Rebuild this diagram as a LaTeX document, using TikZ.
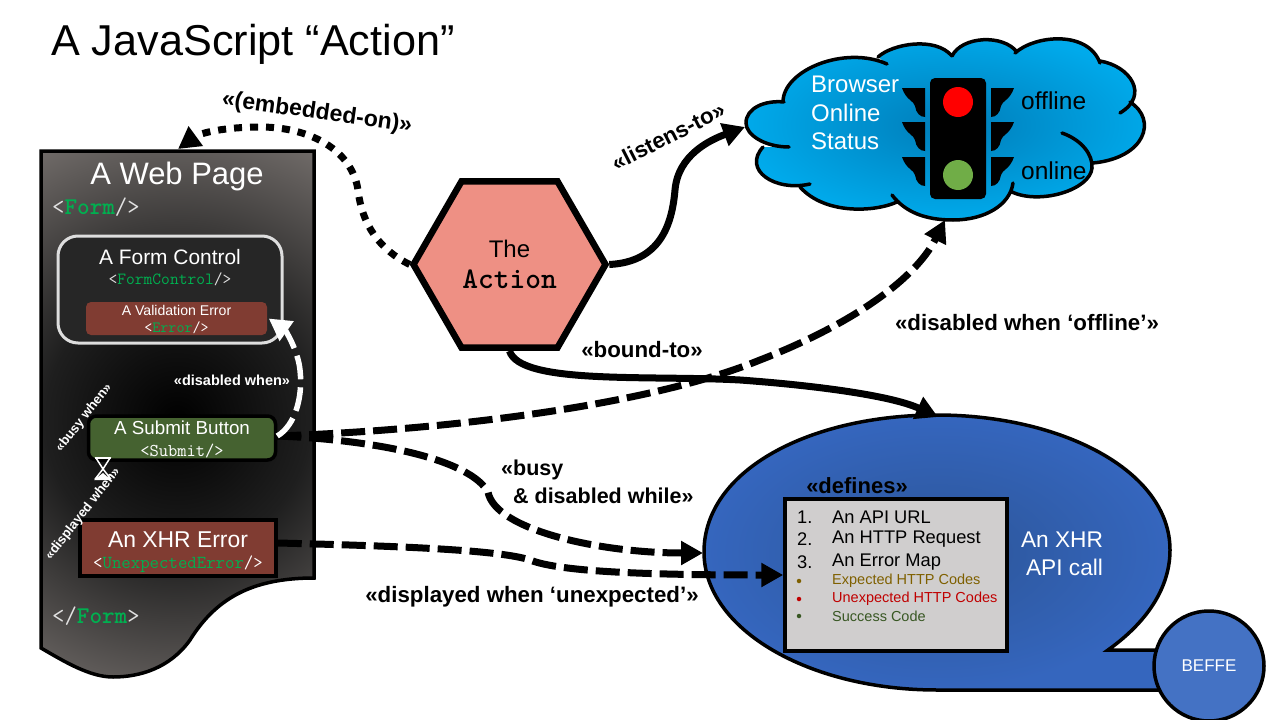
\documentclass[tikz,border=0pt]{standalone}
\usepackage{fontspec}
\setmainfont{Liberation Sans}
\usetikzlibrary{positioning, arrows.meta, shapes.geometric}
\newcommand{\fsz}[1]{\fontsize{#1}{#1}\selectfont}
\newcommand{\tagname}[1]{{\color{formgreen}#1}}
\definecolor{formgreen}{RGB}{0, 176, 80}
\definecolor{actionred}{RGB}{238, 144, 132}
\definecolor{errorred}{RGB}{128, 60, 50}
\definecolor{submitgreen}{RGB}{69, 98, 48}
\definecolor{cloudblue}{RGB}{0, 170, 235}
\definecolor{cloudmid}{RGB}{0, 125, 185}
\definecolor{xhrblue}{RGB}{53, 102, 190}
\definecolor{xhrmid}{RGB}{44, 85, 152}
\definecolor{listgrey}{RGB}{208, 206, 206}
\definecolor{beffeblue}{RGB}{68, 114, 196}
\definecolor{tagwhite}{RGB}{225, 225, 225}
\pgfdeclareradialshading{pageshade}{\pgfpoint{0bp}{0bp}}{%
  rgb(0bp)=(0,0,0); rgb(11bp)=(.12,.12,.12); rgb(25bp)=(.44,.42,.41); rgb(50bp)=(.44,.42,.41)}
\tikzset{
  % Boxes on the page
  block/.style={
    rectangle, draw=black, line width=3.5pt, text=white, align=center, inner sep=0pt
  },
  % Connector styles
  arr/.style={-{Triangle[length=22pt,width=23pt]}, line width=7pt, color=black},
  dasharr/.style={arr, dash pattern=on 24pt off 8pt},
  dotarr/.style={arr, dash pattern=on 8pt off 8pt},
  % Connector labels
  lab/.style={font=\fsz{22.3}\bfseries, text=black, inner sep=0pt, align=left},
  whitelab/.style={font=\fsz{13.2}\bfseries, text=white, inner sep=0pt},
  plain/.style={inner sep=0pt, text=white},
  tagtext/.style={inner sep=0pt, text=tagwhite, font=\fsz{24}\ttfamily, anchor=west},
  listitem/.style={inner sep=0pt, anchor=west, text=black, font=\fsz{18.3}},
  codeitem/.style={inner sep=0pt, anchor=west, font=\fsz{14.5}},
  bullet/.style={circle, minimum size=4.5pt, inner sep=0pt},
  lamp/.style={circle, minimum size=30pt, inner sep=0pt},
  visor/.style={fill=black},
}
% One hood of the traffic light
\newcommand{\visorpath}{(0,0) -- (23,0) -- (23,29) .. controls (18,29) and (14,25) .. (13,18) .. controls (12,13) and (4,12) .. (0,0) -- cycle}
% The cloud: #1 joins the bumps (-- to fill, empty to stroke)
\newcommand{\cloudoutline}[1]{
  (783,102) .. controls (783,70) and (845,45) .. (887,64) #1
  (878,57) .. controls (892,44) and (935,36) .. (952,56) #1
  (952,56) .. controls (962,36) and (1003,34) .. (1017,52) #1
  (1015,53) .. controls (1035,35) and (1088,30) .. (1100,63) #1
  (1100,61) .. controls (1130,66) and (1150,95) .. (1120,113) #1
  (1130,102) .. controls (1158,120) and (1145,158) .. (1093,163) #1
  (1062,133) .. controls (1082,140) and (1093,155) .. (1092,168) .. controls (1090,190) and (1040,205) .. (1012,192) #1
  (1013,183) .. controls (1010,205) and (985,220) .. (953,220) .. controls (925,220) and (905,212) .. (892,195) #1
  (897,202) .. controls (875,212) and (825,215) .. (800,187) #1
  (810,184) .. controls (775,192) and (742,170) .. (763,147) #1
  (789,147) .. controls (765,147) and (746,135) .. (746,123) .. controls (746,108) and (765,100) .. (784,102)
}
\newcommand{\pageoutline}{(41,151) -- (314,151) -- (314,578) .. controls (250,578) and (215,600) .. (190,640)
    .. controls (170,668) and (140,677) .. (113,677) .. controls (90,677) and (65,662) .. (41,648) -- cycle}
\newcommand{\bubbleoutline}{(1165,650) -- (1108,650) .. controls (1150,620) and (1170,585) .. (1170,550) .. controls (1170,470) and (1060,415) .. (937,415)
    .. controls (810,415) and (704,470) .. (704,552) .. controls (704,630) and (810,690) .. (937,690) -- (1165,690)}

\begin{document}
\begin{tikzpicture}[x=1pt, y=-1pt]
  \useasboundingbox (0,0) rectangle (1280,720);
  \node[plain, text=black, font=\fsz{43.2}, anchor=west] (title) at (51,44) {A JavaScript “Action”};

  % The web page
  \begin{scope}
    \clip \pageoutline;
    \shade[shading=pageshade] (177,420) circle (302);
  \end{scope}
  \draw[line width=3.5pt] \pageoutline;
  \coordinate (pagetop) at (178,149);
  \node[plain, font=\fsz{31}] (pagetitle) at (177,176) {A Web Page};
  \node[tagtext] (formopen) at (52,207) {<\tagname{\bfseries Form}/>};
  \node[tagtext] (formclose) at (52,616) {</\tagname{\bfseries Form}>};

  \node[block, draw=white!87!black, line width=3pt, fill=black!85, rounded corners=20pt, minimum width=224pt, minimum height=107pt] (formctl) at (170,289.5) {};
  \node[plain, font=\fsz{20.9}, below=15pt of formctl.north] (formctltxt) {A Form Control};
  \node[plain, text=tagwhite, font=\fsz{17}\ttfamily, below=7pt of formctltxt] (formctltag) {<\tagname{FormControl}/>};
  \node[block, draw=none, fill=errorred, rounded corners=5pt, minimum width=181pt, minimum height=33pt, font=\fsz{14.1}] (valerr) at (176.5,318.5) {\rule{0pt}{13pt}A Validation Error\\[3pt]{\fontsize{15.6}{15.6}\ttfamily <\tagname{Error}/>}};

  \node[block, fill=submitgreen, rounded corners=8pt, minimum width=187pt, minimum height=44pt, font=\fsz{18.8}] (submit) at (182,438) {\rule{0pt}{16pt}A Submit Button\\[3pt]{\fontsize{18}{18}\ttfamily <Submit/>}};
  \node[block, fill=errorred, minimum width=196pt, minimum height=56pt, font=\fsz{22.9}] (xhrerr) at (178,548) {\rule{0pt}{24pt}An XHR Error\\[-2pt]{\fontsize{18.3}{18.3}\ttfamily <\tagname{UnexpectedError}/>}};

  % Hourglass under the button
  \draw[white, line width=1.5pt] (96,458) -- (110,458) -- (103,469) -- cycle;
  \fill[white] (95,456.5) rectangle (111,459);
  \draw[white, line width=1.5pt] (103,469) -- (96,478) -- (110,478) -- cycle;
  \fill[white] (103,473) -- (94,480) -- (111,480) -- cycle;
  \node[whitelab, rotate=52] (busylab) at (84,418) {«busy when»};
  \node[whitelab, rotate=52] (displab) at (83,514) {«displayed when»};
  \node[whitelab, font=\fsz{14.5}\bfseries] (dislab) at (232,380) {«disabled when»};

  % The action
  \node[regular polygon, regular polygon sides=6, minimum size=192pt, inner sep=0pt, draw=black, line width=6.5pt, fill=actionred, align=center, font=\fsz{24}] (action) at (509.5,264.5) {The\\[7pt]{\fontsize{30}{30}\ttfamily\bfseries Action}};

  % The cloud with its traffic light
  \shade[inner color=cloudmid, outer color=cloudblue] \cloudoutline{--} -- cycle;
  \draw[line width=3.5pt, line cap=round] \cloudoutline{};
  \coordinate (cloudtip) at (945,220);
  \coordinate (cloudleft) at (745,127);
  \node[plain, font=\fontsize{24}{28.5}\selectfont, align=left, anchor=north west] (browser) at (811,76) {Browser\\Online\\Status};
  \node[plain, text=black, font=\fsz{24.5}, anchor=west] (offline) at (1021,101) {offline};
  \node[plain, text=black, font=\fsz{24.5}, anchor=west] (online) at (1021,171) {online};
  \node[draw=none, fill=black, rounded corners=5pt, minimum width=56pt, minimum height=121pt] (light) at (958,138.5) {};
  \node[lamp, fill=red] (redlamp) at (958,102) {};
  \node[lamp, fill={rgb,255:red,112;green,173;blue,71}] (greenlamp) at (958,175) {};
  \fill[visor, shift={(902,88)}] \visorpath;
  \fill[visor, shift={(902,122)}] \visorpath;
  \fill[visor, shift={(902,157)}] \visorpath;
  \fill[visor, shift={(1014,88)}, xscale=-1] \visorpath;
  \fill[visor, shift={(1014,122)}, xscale=-1] \visorpath;
  \fill[visor, shift={(1014,157)}, xscale=-1] \visorpath;

  % The XHR call bubble
  \shade[inner color=xhrmid, outer color=xhrblue] \bubbleoutline -- cycle;
  \draw[line width=3.5pt] \bubbleoutline;
  \coordinate (xhrtop) at (938,417);
  \coordinate (xhrleft) at (703,553);
  \node[block, fill=listgrey, minimum width=222pt, minimum height=152pt] (listbox) at (896,575) {};
  \node[plain, text=black, font=\fsz{22}\bfseries] (defines) at (857,486) {«defines»};
  \node[listitem] (num1) at (797,517) {1.};
  \node[listitem] (num2) at (797,539) {2.};
  \node[listitem] (num3) at (797,562) {3.};
  \node[listitem] (item1) at (832,517) {An API URL};
  \node[listitem] (item2) at (832,539) {An HTTP Request};
  \node[listitem] (item3) at (832,562) {An Error Map};
  \node[codeitem, text={rgb,255:red,127;green,96;blue,0}] (code1) at (832,581) {Expected HTTP Codes};
  \node[codeitem, text={rgb,255:red,192;green,0;blue,0}] (code2) at (832,599) {Unexpected HTTP Codes};
  \node[codeitem, text={rgb,255:red,56;green,87;blue,35}] (code3) at (832,616) {Success Code};
  \node[bullet, fill={rgb,255:red,127;green,96;blue,0}] (dot1) at (799,581) {};
  \node[bullet, fill={rgb,255:red,192;green,0;blue,0}] (dot2) at (799,599) {};
  \node[bullet, fill={rgb,255:red,56;green,87;blue,35}] (dot3) at (799,616) {};
  \node[plain, font=\fontsize{22.7}{28.5}\selectfont, align=right] (xhrtxt) at (1062,554) {An XHR\\API call};
  \node[circle, draw=black, line width=3.5pt, fill=beffeblue, minimum size=110pt, inner sep=0pt, text=white, font=\fsz{17}] (beffe) at (1209,666) {BEFFE};

  % Connectors
  \draw[dotarr] (action.west) .. controls (380,250) and (362,225) .. (358,190) .. controls (352,150) and (310,127) .. (260,127) .. controls (225,127) and (200,133) .. (pagetop);
  \draw[arr] (action.east) .. controls (660,262) and (672,225) .. (675,190) .. controls (678,155) and (710,140) .. (cloudleft);
  \draw[arr] (action.south) .. controls (520,385) and (650,375) .. (740,380) .. controls (810,385) and (890,395) .. (xhrtop);
  \draw[dasharr] ([yshift=2pt]submit.east) .. controls (450,430) and (650,405) .. (760,360) .. controls (850,325) and (915,280) .. (cloudtip);
  \draw[dasharr] ([yshift=2pt]submit.east) .. controls (380,440) and (470,460) .. (488,492) .. controls (495,530) and (600,553) .. (xhrleft);
  \draw[dasharr] ([yshift=5pt]xhrerr.east) .. controls (400,546) and (500,550) .. (530,560) .. controls (560,572) and (650,575) .. (listbox.west);
  \draw[arr, white, dash pattern=on 24pt off 8pt, line width=5.5pt] ([yshift=2pt]submit.east) .. controls (296,425) and (303,395) .. (300,370) .. controls (298,350) and (285,330) .. (valerr.east);

  % Connector labels
  \node[lab, font=\fsz{23}\bfseries, rotate=-8] (embedlab) at (317,113) {«(embedded-on)»};
  \node[lab, rotate=27] (listenlab) at (668,136) {«listens-to»};
  \node[lab] (boundlab) at (642,350) {«bound-to»};
  \node[lab] (offlab) at (1027,323) {«disabled when ‘offline’»};
  \node[lab, anchor=north west, font=\fontsize{21.5}{28}\bfseries] (busylab2) at (501,460) {«busy\\\ \ \& disabled while»};
  \node[lab] (unexlab) at (532,597) {«displayed when ‘unexpected’»};
\end{tikzpicture}
\end{document}
